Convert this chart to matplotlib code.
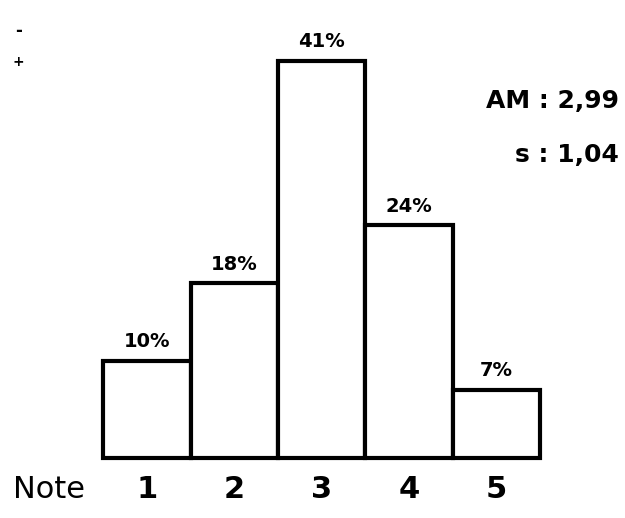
import matplotlib.pyplot as plt

notes = [1, 2, 3, 4, 5]
percents = [10, 18, 41, 24, 7]
labels = ['10%', '18%', '41%', '24%', '7%']
tick_labels = ['1', '2', '3', '4', '5']

fig = plt.figure(figsize=(6.25, 5.18), dpi=100)
ax = fig.add_axes([0.165, 0.116, 0.699, 0.842])

bars = ax.bar(notes, percents, width=1.0, color='white', edgecolor='black', linewidth=3)
for b in bars:
    b.set_clip_on(False)
for x, p, lab in zip(notes, percents, labels):
    ax.text(x, p + 1.0, lab, ha='center', va='bottom', fontsize=14, fontweight='bold')

ax.set_xlim(0.5, 5.5)
ax.set_ylim(0, 45)
for s in ax.spines.values():
    s.set_visible(False)
ax.set_yticks([])
ax.set_xticks(notes)
ax.set_xticklabels(tick_labels, fontsize=22, fontweight='bold')
ax.tick_params(axis='x', length=0, pad=12)

fig.text(0.02, 0.055, 'Note', fontsize=22, va='center', ha='left')
fig.text(0.99, 0.805, 'AM : 2,99', fontsize=18, fontweight='bold', ha='right', va='center')
fig.text(0.99, 0.70, 's : 1,04', fontsize=18, fontweight='bold', ha='right', va='center')
fig.text(0.03, 0.94, '-', fontsize=12, fontweight='bold', ha='center', va='center')
fig.text(0.03, 0.88, '+', fontsize=10, fontweight='bold', ha='center', va='center')

fig.savefig('out.png', dpi=100)
